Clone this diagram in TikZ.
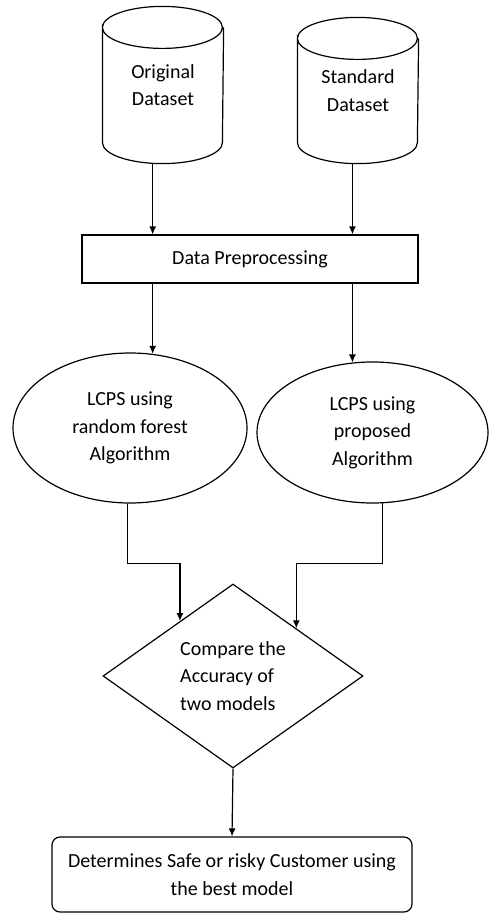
\documentclass[tikz,border=0pt]{standalone}
\usepackage{fontspec}
\setmainfont{Carlito}
\usetikzlibrary{shapes.geometric,arrows.meta}

\begin{document}
\begin{tikzpicture}
[
	x=1pt,
	y=-1pt,
	line width=1.2pt,
	>={Latex[length=8pt,width=7pt]},
	font=\fontsize{20}{27.5}\selectfont,
	db/.style={rectangle,inner sep=0pt,minimum width=120pt,align=center},
	proc/.style={rectangle,draw,inner sep=0pt,minimum width=336pt,minimum height=48pt},
	algo/.style={ellipse,draw,inner sep=0pt,align=center},
	decide/.style={diamond,draw,inner sep=0pt,aspect=1.41,minimum width=260pt,minimum height=184pt,align=left},
	outcome/.style={rectangle,draw,rounded corners=8pt,inner sep=0pt,minimum width=360pt,minimum height=75pt,align=center}
]
	\useasboundingbox (0,0) rectangle (489,913);

	% data sources
	\node[db,minimum height=156pt] (orig) at (163,85) {Original\\Dataset};
	\node[db,minimum height=145pt] (std) at (358,90.5) {Standard\\Dataset};
	\foreach \n in {orig,std}
		\draw ([yshift=-21pt]\n.north west) arc[start angle=180,end angle=-180,x radius=60pt,y radius=21pt]
			-- ([yshift=21pt]\n.south west) arc[start angle=180,end angle=360,x radius=60pt,y radius=21pt]
			-- ([yshift=-21pt]\n.north east);

	\node[proc] (prep) at (250,259) {Data Preprocessing};

	% the two models
	\node[algo,minimum width=234pt,minimum height=150pt] (rf) at (130,428) {LCPS using\\random forest\\Algorithm};
	\node[algo,minimum width=231pt,minimum height=141pt] (prop) at (372.5,432.5) {LCPS using\\proposed\\Algorithm};

	\node[decide] (cmp) at (233,676) {Compare the\\Accuracy of\\two models};
	\node[outcome] (best) at (232,874.5) {Determines Safe or risky Customer using\\the best model};

	% arrows
	\draw[->] (rf.73 |- orig.south) -- (rf.73 |- prep.north);
	\draw[->] (prop.106 |- std.south) -- (prop.106 |- prep.north);
	\draw[->] (prep.south -| rf.73) -- (rf.73);
	\draw[->] (prep.south -| prop.106) -- (prop.106);
	\draw[->] (rf.-92) -- ++(0,60) -| (cmp.134);
	\draw[->] (prop.-82) -- ++(0,60) -| (cmp.37);
	\draw[->] (cmp.south) -- (best.north);

\end{tikzpicture}
\end{document}
